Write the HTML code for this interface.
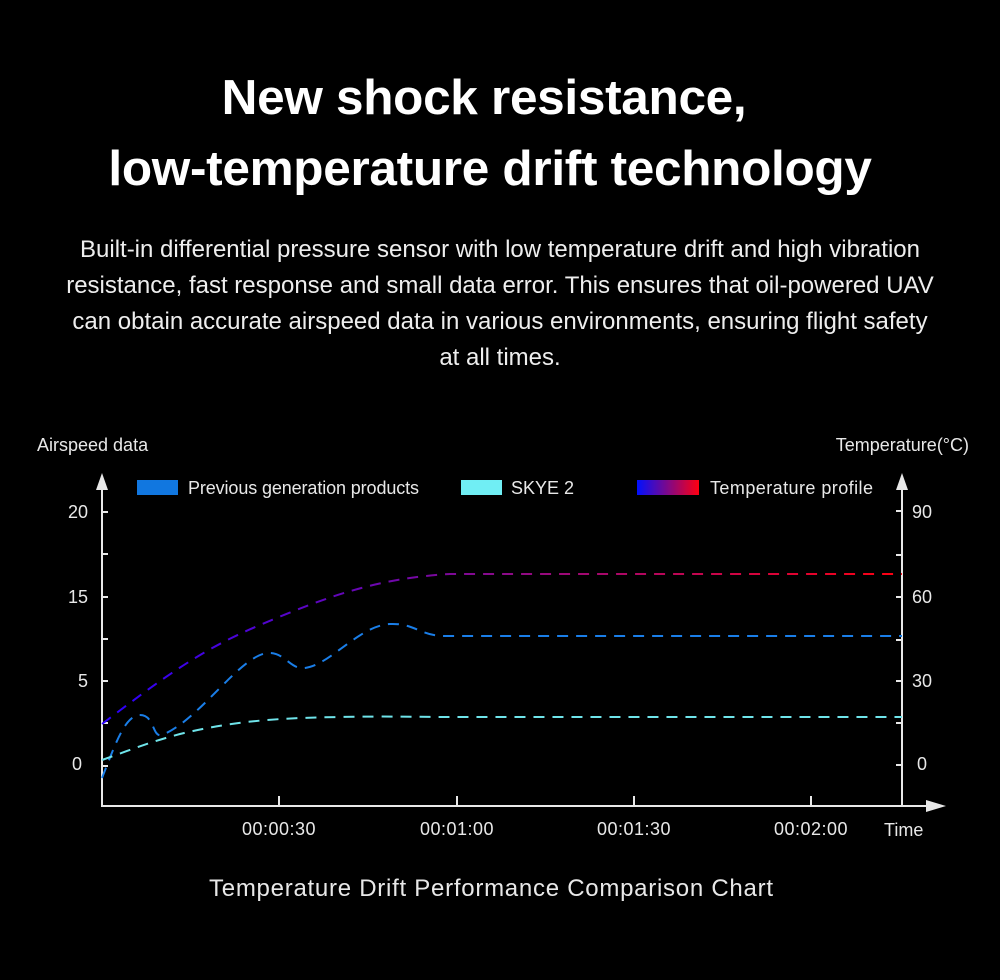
<!DOCTYPE html>
<html><head><meta charset="utf-8"><style>
html,body{margin:0;padding:0;background:#000;}
body{width:1000px;height:980px;position:relative;overflow:hidden;font-family:"Liberation Sans",sans-serif;color:#fff;}
.t{position:absolute;left:0;width:1000px;text-align:center;font-weight:bold;font-size:49.5px;letter-spacing:-0.3px}
.p{position:absolute;left:0;width:1000px;text-align:center;font-size:24px;line-height:36px;top:232px;color:#eee;white-space:nowrap}
</style></head><body>
<div class="t" style="top:69px;left:-16px">New shock resistance,</div>
<div class="t" style="top:140px;left:-10px">low-temperature drift technology</div>
<div class="p">Built-in differential pressure sensor with low temperature drift and high vibration<br>resistance, fast response and small data error. This ensures that oil-powered UAV<br>can obtain accurate airspeed data in various environments, ensuring flight safety<br>at all times.</div>
<svg width="1000" height="980" style="position:absolute;left:0;top:0" font-family="Liberation Sans, sans-serif">
<defs><linearGradient id="g" x1="102" x2="902" gradientUnits="userSpaceOnUse"><stop offset="0" stop-color="#2a00ff"/><stop offset="0.5" stop-color="#8a0a8a"/><stop offset="1" stop-color="#ff0010"/></linearGradient>
<linearGradient id="lg" x1="0" x2="1"><stop offset="0" stop-color="#0010ff"/><stop offset="1" stop-color="#ff0010"/></linearGradient></defs>
<g fill="#e8e8e8" font-size="18">
<text x="37" y="451">Airspeed data</text>
<text x="969" y="451" text-anchor="end">Temperature(°C)</text>
<text x="188" y="494" textLength="231">Previous generation products</text>
<text x="511" y="494">SKYE 2</text>
<text x="710" y="494" textLength="163">Temperature profile</text>
<text x="88" y="518" text-anchor="end">20</text>
<text x="88" y="603" text-anchor="end">15</text>
<text x="88" y="687" text-anchor="end">5</text>
<text x="82" y="770" text-anchor="end">0</text>
<text x="912" y="518">90</text><text x="912" y="603">60</text><text x="912" y="687">30</text><text x="917" y="770">0</text>
<g letter-spacing="0.5">
<text x="279" y="835" text-anchor="middle">00:00:30</text>
<text x="457" y="835" text-anchor="middle">00:01:00</text>
<text x="634" y="835" text-anchor="middle">00:01:30</text>
<text x="811" y="835" text-anchor="middle">00:02:00</text>
</g>
<text x="884" y="836">Time</text>
<text x="209" y="896" font-size="24" textLength="564">Temperature Drift Performance Comparison Chart</text>
</g>
<rect x="137" y="480" width="41" height="15" fill="#1177e0"/>
<rect x="461" y="480" width="41" height="15" fill="#70eef4"/>
<rect x="637" y="480" width="62" height="15" fill="url(#lg)"/>
<g stroke="#e8e8e8" stroke-width="2" fill="none">
<path d="M102 485V806H935"/><path d="M902 485V806"/>
<path d="M102 512h6M102 554h6M102 597h6M102 639h6M102 681h6M102 723h6M102 766h6"/>
<path d="M902 511h-6M902 555h-6M902 597h-6M902 640h-6M902 681h-6M902 723h-6M902 765h-6"/>
<path d="M279 806v-10M457 806v-10M634 806v-10M811 806v-10"/>
</g>
<g fill="#e8e8e8"><path d="M96 490l6-17 6 17z"/><path d="M896 490l6-17 6 17z"/><path d="M926 800l20 6-20 6z"/></g>
<g fill="none" stroke-width="2" stroke-dasharray="11 8">
<path stroke="url(#g)" d="M102 724C160 680 200 650 260 625C330 595 380 578 450 574L902 574"/>
<path stroke="#1a7ee8" d="M102 778C115 745 125 715 140 715C155 715 152 738 162 735C200 720 240 655 268 653C285 652 290 670 305 668C330 665 360 625 390 624C415 623 420 636 445 636L902 636"/>
<path stroke="#6fe4ea" d="M102 760C130 750 150 742 180 734C230 722 270 718 340 717C390 716 420 717 450 717L902 717"/>
</g>
</svg>
</body></html>
